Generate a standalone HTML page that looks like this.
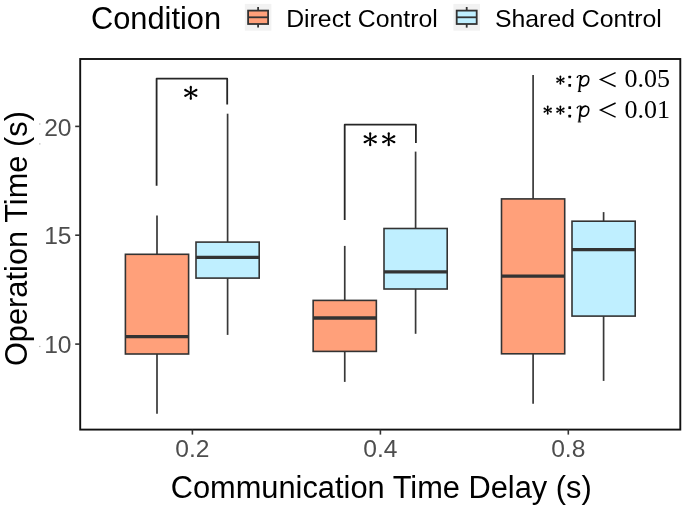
<!DOCTYPE html>
<html><head><meta charset="utf-8"><style>
html,body{margin:0;padding:0;background:#fff;}
svg{display:block;will-change:transform;}
text{font-family:"Liberation Sans",sans-serif;}
.tick{font-size:24.6px;fill:#4D4D4D;}
.title{font-size:30.8px;fill:#000;}
.leg{font-size:24.8px;fill:#000;}
.mn{font-family:"Liberation Serif",serif;font-size:26px;fill:#000;}
</style></head><body>
<svg width="685" height="509" viewBox="0 0 685 509">
<rect width="685" height="509" fill="#fff"/>
<line x1="157.0" y1="215.5" x2="157.0" y2="254.3" stroke="#383838" stroke-width="1.7"/>
<line x1="157.0" y1="354.0" x2="157.0" y2="413.8" stroke="#383838" stroke-width="1.7"/>
<rect x="125.40" y="254.3" width="63.20" height="99.70" fill="#FFA07A" stroke="#333333" stroke-width="1.6"/>
<line x1="125.40" y1="336.7" x2="188.60" y2="336.7" stroke="#333333" stroke-width="3.3"/>
<line x1="227.6" y1="113.7" x2="227.6" y2="242.1" stroke="#383838" stroke-width="1.7"/>
<line x1="227.6" y1="278.1" x2="227.6" y2="334.9" stroke="#383838" stroke-width="1.7"/>
<rect x="196.00" y="242.1" width="63.20" height="36.00" fill="#BFEFFF" stroke="#333333" stroke-width="1.6"/>
<line x1="196.00" y1="257.3" x2="259.20" y2="257.3" stroke="#333333" stroke-width="3.3"/>
<line x1="344.75" y1="245.9" x2="344.75" y2="300.4" stroke="#383838" stroke-width="1.7"/>
<line x1="344.75" y1="351.4" x2="344.75" y2="381.9" stroke="#383838" stroke-width="1.7"/>
<rect x="313.15" y="300.4" width="63.20" height="51.00" fill="#FFA07A" stroke="#333333" stroke-width="1.6"/>
<line x1="313.15" y1="318.0" x2="376.35" y2="318.0" stroke="#333333" stroke-width="3.3"/>
<line x1="415.6" y1="151.6" x2="415.6" y2="228.5" stroke="#383838" stroke-width="1.7"/>
<line x1="415.6" y1="289.0" x2="415.6" y2="333.8" stroke="#383838" stroke-width="1.7"/>
<rect x="384.00" y="228.5" width="63.20" height="60.50" fill="#BFEFFF" stroke="#333333" stroke-width="1.6"/>
<line x1="384.00" y1="271.8" x2="447.20" y2="271.8" stroke="#333333" stroke-width="3.3"/>
<line x1="533.1" y1="74.9" x2="533.1" y2="198.9" stroke="#383838" stroke-width="1.7"/>
<line x1="533.1" y1="353.8" x2="533.1" y2="403.8" stroke="#383838" stroke-width="1.7"/>
<rect x="501.50" y="198.9" width="63.20" height="154.90" fill="#FFA07A" stroke="#333333" stroke-width="1.6"/>
<line x1="501.50" y1="276.1" x2="564.70" y2="276.1" stroke="#333333" stroke-width="3.3"/>
<line x1="603.6" y1="212.1" x2="603.6" y2="221.2" stroke="#383838" stroke-width="1.7"/>
<line x1="603.6" y1="316.1" x2="603.6" y2="380.9" stroke="#383838" stroke-width="1.7"/>
<rect x="572.00" y="221.2" width="63.20" height="94.90" fill="#BFEFFF" stroke="#333333" stroke-width="1.6"/>
<line x1="572.00" y1="249.6" x2="635.20" y2="249.6" stroke="#333333" stroke-width="3.3"/>
<path d="M156.6 185.7L156.6 78.7L227.2 78.7L227.2 104.5" stroke="#262626" stroke-width="1.8" fill="none" stroke-linejoin="round"/>
<path d="M344.7 220.1L344.7 124.7L415.9 124.7L415.9 143.0" stroke="#262626" stroke-width="1.8" fill="none" stroke-linejoin="round"/>
<g fill="#000"><path d="M191.45 92.90L191.90 86.95L189.70 86.95L190.15 92.90Z"/><circle cx="190.80" cy="86.95" r="1.10"/><path d="M191.11 93.47L196.88 90.91L195.85 88.97L190.49 92.33Z"/><circle cx="196.36" cy="89.94" r="1.10"/><path d="M190.49 93.47L195.85 96.83L196.88 94.89L191.11 92.33Z"/><circle cx="196.36" cy="95.86" r="1.10"/><path d="M191.11 92.33L185.75 88.97L184.72 90.91L190.49 93.47Z"/><circle cx="185.24" cy="89.94" r="1.10"/><path d="M190.49 92.33L184.72 94.89L185.75 96.83L191.11 93.47Z"/><circle cx="185.24" cy="95.86" r="1.10"/><path d="M190.15 92.90L189.70 98.85L191.90 98.85L191.45 92.90Z"/><circle cx="190.80" cy="98.85" r="1.10"/><circle cx="190.8" cy="92.9" r="1.17"/></g>
<g fill="#000"><path d="M370.85 139.20L371.30 133.25L369.10 133.25L369.55 139.20Z"/><circle cx="370.20" cy="133.25" r="1.10"/><path d="M370.51 139.77L376.28 137.21L375.25 135.27L369.89 138.63Z"/><circle cx="375.76" cy="136.24" r="1.10"/><path d="M369.89 139.77L375.25 143.13L376.28 141.19L370.51 138.63Z"/><circle cx="375.76" cy="142.16" r="1.10"/><path d="M370.51 138.63L365.15 135.27L364.12 137.21L369.89 139.77Z"/><circle cx="364.64" cy="136.24" r="1.10"/><path d="M369.89 138.63L364.12 141.19L365.15 143.13L370.51 139.77Z"/><circle cx="364.64" cy="142.16" r="1.10"/><path d="M369.55 139.20L369.10 145.15L371.30 145.15L370.85 139.20Z"/><circle cx="370.20" cy="145.15" r="1.10"/><circle cx="370.2" cy="139.2" r="1.17"/></g>
<g fill="#000"><path d="M389.40 139.20L389.85 133.25L387.65 133.25L388.10 139.20Z"/><circle cx="388.75" cy="133.25" r="1.10"/><path d="M389.06 139.77L394.83 137.21L393.80 135.27L388.44 138.63Z"/><circle cx="394.31" cy="136.24" r="1.10"/><path d="M388.44 139.77L393.80 143.13L394.83 141.19L389.06 138.63Z"/><circle cx="394.31" cy="142.16" r="1.10"/><path d="M389.06 138.63L383.70 135.27L382.67 137.21L388.44 139.77Z"/><circle cx="383.19" cy="136.24" r="1.10"/><path d="M388.44 138.63L382.67 141.19L383.70 143.13L389.06 139.77Z"/><circle cx="383.19" cy="142.16" r="1.10"/><path d="M388.10 139.20L387.65 145.15L389.85 145.15L389.40 139.20Z"/><circle cx="388.75" cy="145.15" r="1.10"/><circle cx="388.75" cy="139.2" r="1.17"/></g>
<rect x="80.2" y="59.0" width="600.10" height="370.60" fill="none" stroke="#111" stroke-width="1.9"/>
<line x1="75.2" y1="126.4" x2="80.2" y2="126.4" stroke="#333333" stroke-width="1.6"/>
<text x="71.5" y="135.5" text-anchor="end" class="tick">20</text>
<line x1="75.2" y1="235.2" x2="80.2" y2="235.2" stroke="#333333" stroke-width="1.6"/>
<text x="71.5" y="244.3" text-anchor="end" class="tick">15</text>
<line x1="75.2" y1="344.1" x2="80.2" y2="344.1" stroke="#333333" stroke-width="1.6"/>
<text x="71.5" y="353.2" text-anchor="end" class="tick">10</text>
<line x1="192.4" y1="429.6" x2="192.4" y2="434.6" stroke="#333333" stroke-width="1.6"/>
<text x="192.4" y="456.5" text-anchor="middle" class="tick">0.2</text>
<line x1="380.4" y1="429.6" x2="380.4" y2="434.6" stroke="#333333" stroke-width="1.6"/>
<text x="380.4" y="456.5" text-anchor="middle" class="tick">0.4</text>
<line x1="568.3" y1="429.6" x2="568.3" y2="434.6" stroke="#333333" stroke-width="1.6"/>
<text x="568.3" y="456.5" text-anchor="middle" class="tick">0.8</text>
<text x="381.2" y="498.1" text-anchor="middle" class="title">Communication Time Delay (s)</text>
<text transform="translate(27.3 238.6) rotate(-90)" text-anchor="middle" class="title">Operation Time (s)</text>
<text x="91.0" y="29.4" class="title">Condition</text>
<rect x="244.8" y="3.9" width="26.6" height="26.8" fill="#F2F2F2"/><line x1="258.1" y1="6.98" x2="258.1" y2="27.62" stroke="#333333" stroke-width="1.8"/><rect x="248.10" y="10.60" width="20.00" height="13.40" fill="#FFA07A" stroke="#333333" stroke-width="1.8"/><line x1="248.10" y1="17.30" x2="268.10" y2="17.30" stroke="#333333" stroke-width="1.8"/>
<rect x="453.4" y="3.9" width="26.6" height="26.8" fill="#F2F2F2"/><line x1="466.7" y1="6.98" x2="466.7" y2="27.62" stroke="#333333" stroke-width="1.8"/><rect x="456.70" y="10.60" width="20.00" height="13.40" fill="#BFEFFF" stroke="#333333" stroke-width="1.8"/><line x1="456.70" y1="17.30" x2="476.70" y2="17.30" stroke="#333333" stroke-width="1.8"/>
<text x="286.2" y="27.2" class="leg">Direct Control</text>
<text x="495.0" y="27.2" class="leg">Shared Control</text>
<g fill="#000"><path d="M560.90 80.10L561.27 76.38L559.52 76.38L559.90 80.10Z"/><circle cx="560.40" cy="76.38" r="0.88"/><path d="M560.63 80.55L564.12 79.19L563.32 77.63L560.17 79.65Z"/><circle cx="563.72" cy="78.41" r="0.88"/><path d="M560.17 80.55L563.32 82.57L564.12 81.01L560.63 79.65Z"/><circle cx="563.72" cy="81.79" r="0.88"/><path d="M560.63 79.65L557.48 77.63L556.68 79.19L560.17 80.55Z"/><circle cx="557.08" cy="78.41" r="0.88"/><path d="M560.17 79.65L556.68 81.01L557.48 82.57L560.63 80.55Z"/><circle cx="557.08" cy="81.79" r="0.88"/><path d="M559.90 80.10L559.52 83.82L561.27 83.82L560.90 80.10Z"/><circle cx="560.40" cy="83.82" r="0.88"/><circle cx="560.4" cy="80.1" r="0.90"/></g>
<rect x="568.35" y="75.65" width="2.7" height="2.7" rx="0.5" fill="#000"/><rect x="568.35" y="84.05" width="2.7" height="2.7" rx="0.5" fill="#000"/>
<g transform="translate(574.0 72.0)" fill="none" stroke="#000" stroke-linecap="round"><path d="M6.95 3.75L5.2 19.3" stroke-width="1.85" stroke-linecap="butt"/><path d="M3.75 19.55L7.15 19.55" stroke-width="0.95" stroke-linecap="butt"/><path d="M3.3 5.3C3.7 4.2 4.8 3.3 6.7 3.65" stroke-width="1.1"/><circle cx="3.35" cy="5.25" r="0.75" fill="#000" stroke="none"/><path d="M7.1 7.4C8.2 4.9 10.5 3.75 12.1 3.8C13.95 3.9 14.85 5.6 14.7 7.6C14.5 10.2 12.9 12.8 11.0 13.5C9.5 14.05 7.8 14.0 6.9 12.6" stroke-width="1.65"/></g>
<path d="M615.6 72.6L600.6 79.55L615.6 86.5" stroke="#000" stroke-width="1.45" fill="none" stroke-linejoin="miter"/>
<text transform="translate(670.0 86.9) scale(1 1.0)" text-anchor="end" class="mn">0.05</text>
<g fill="#000"><path d="M548.20 110.10L548.58 106.38L546.83 106.38L547.20 110.10Z"/><circle cx="547.70" cy="106.38" r="0.88"/><path d="M547.93 110.55L551.42 109.19L550.62 107.63L547.47 109.65Z"/><circle cx="551.02" cy="108.41" r="0.88"/><path d="M547.47 110.55L550.62 112.57L551.42 111.01L547.93 109.65Z"/><circle cx="551.02" cy="111.79" r="0.88"/><path d="M547.93 109.65L544.78 107.63L543.98 109.19L547.47 110.55Z"/><circle cx="544.38" cy="108.41" r="0.88"/><path d="M547.47 109.65L543.98 111.01L544.78 112.57L547.93 110.55Z"/><circle cx="544.38" cy="111.79" r="0.88"/><path d="M547.20 110.10L546.83 113.82L548.58 113.82L548.20 110.10Z"/><circle cx="547.70" cy="113.82" r="0.88"/><circle cx="547.7" cy="110.1" r="0.90"/></g>
<g fill="#000"><path d="M560.90 110.10L561.27 106.38L559.52 106.38L559.90 110.10Z"/><circle cx="560.40" cy="106.38" r="0.88"/><path d="M560.63 110.55L564.12 109.19L563.32 107.63L560.17 109.65Z"/><circle cx="563.72" cy="108.41" r="0.88"/><path d="M560.17 110.55L563.32 112.57L564.12 111.01L560.63 109.65Z"/><circle cx="563.72" cy="111.79" r="0.88"/><path d="M560.63 109.65L557.48 107.63L556.68 109.19L560.17 110.55Z"/><circle cx="557.08" cy="108.41" r="0.88"/><path d="M560.17 109.65L556.68 111.01L557.48 112.57L560.63 110.55Z"/><circle cx="557.08" cy="111.79" r="0.88"/><path d="M559.90 110.10L559.52 113.82L561.27 113.82L560.90 110.10Z"/><circle cx="560.40" cy="113.82" r="0.88"/><circle cx="560.4" cy="110.1" r="0.90"/></g>
<rect x="568.35" y="106.35" width="2.7" height="2.7" rx="0.5" fill="#000"/><rect x="568.35" y="114.75" width="2.7" height="2.7" rx="0.5" fill="#000"/>
<g transform="translate(574.0 102.4)" fill="none" stroke="#000" stroke-linecap="round"><path d="M6.95 3.75L5.2 19.3" stroke-width="1.85" stroke-linecap="butt"/><path d="M3.75 19.55L7.15 19.55" stroke-width="0.95" stroke-linecap="butt"/><path d="M3.3 5.3C3.7 4.2 4.8 3.3 6.7 3.65" stroke-width="1.1"/><circle cx="3.35" cy="5.25" r="0.75" fill="#000" stroke="none"/><path d="M7.1 7.4C8.2 4.9 10.5 3.75 12.1 3.8C13.95 3.9 14.85 5.6 14.7 7.6C14.5 10.2 12.9 12.8 11.0 13.5C9.5 14.05 7.8 14.0 6.9 12.6" stroke-width="1.65"/></g>
<path d="M615.6 103.0L600.6 110.05L615.6 117.1" stroke="#000" stroke-width="1.45" fill="none" stroke-linejoin="miter"/>
<text transform="translate(670.0 117.7) scale(1 1.0)" text-anchor="end" class="mn">0.01</text>
<rect x="39.2" y="123.4" width="1.2" height="1.2" fill="#aaa"/>
<rect x="39.2" y="143.3" width="1.2" height="1.2" fill="#aaa"/>
<rect x="39.2" y="345.9" width="1.2" height="1.2" fill="#aaa"/>
</svg>
</body></html>
